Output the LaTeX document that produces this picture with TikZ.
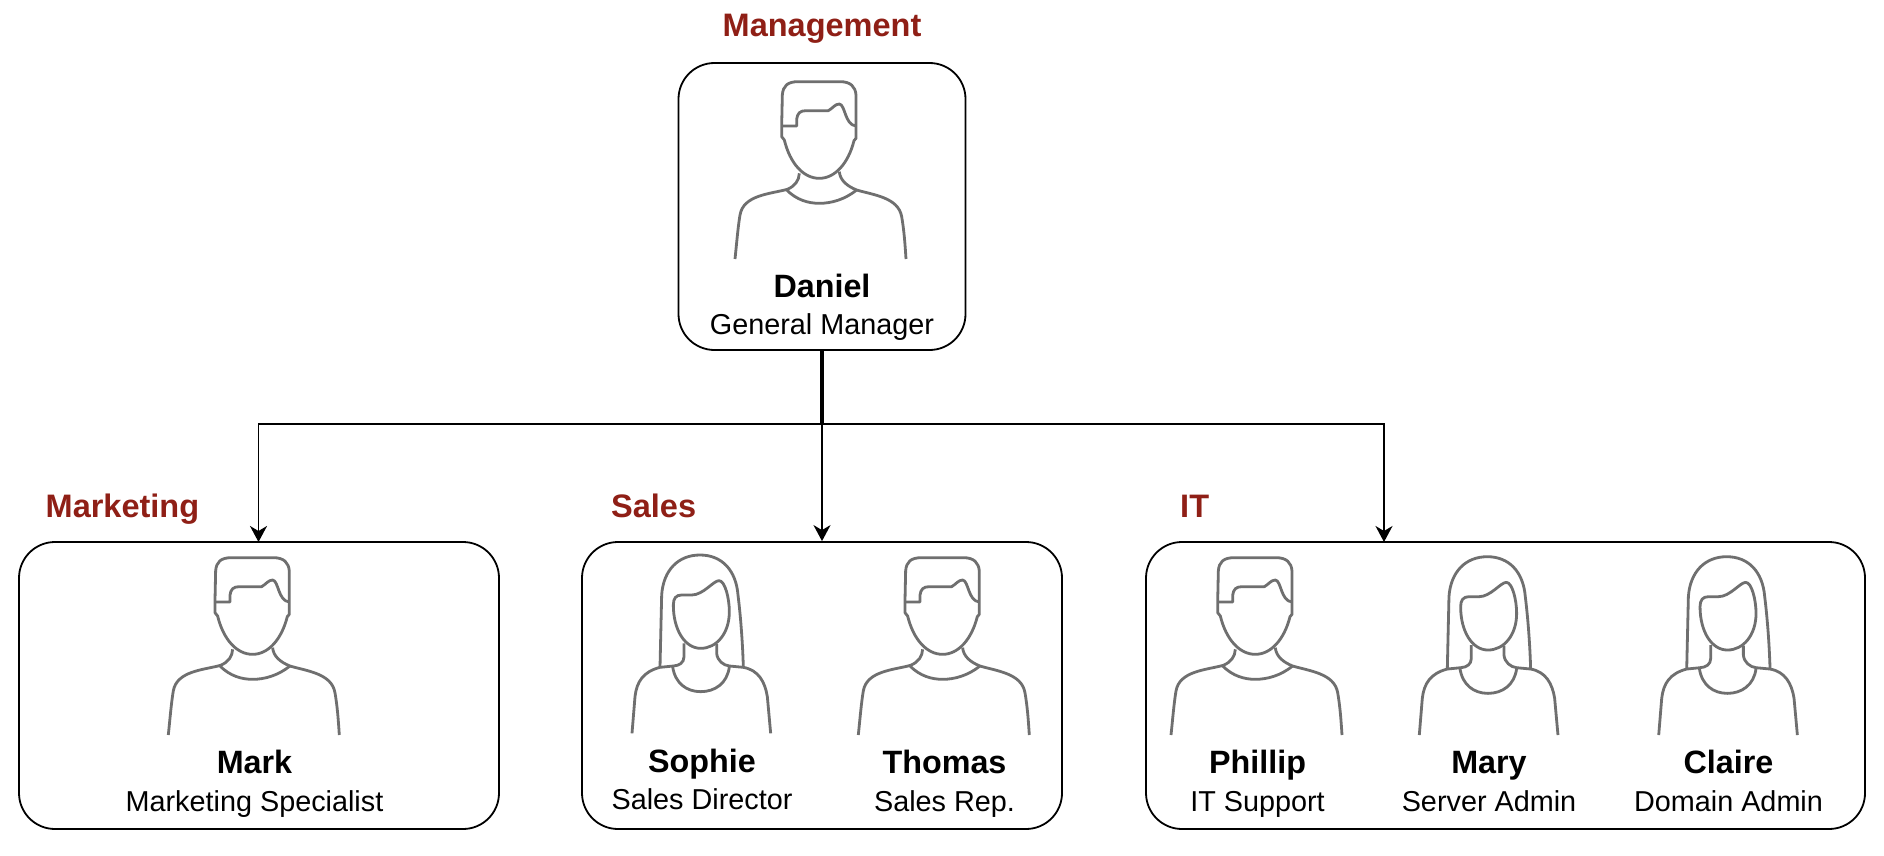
\documentclass[tikz,border=0pt]{standalone}
\usepackage{fontspec}
\setmainfont{Liberation Sans}
\usetikzlibrary{arrows.meta}
\definecolor{title}{HTML}{8F1F16}
\definecolor{figline}{HTML}{6F6F6F}
\tikzset{
  box/.style={draw=black,line width=1.8pt,rounded corners=36pt,fill=white,inner sep=0pt},
  nametext/.style={anchor=base,inner sep=0pt,font=\fontsize{32.3}{38}\selectfont\bfseries},
  roletext/.style={anchor=base,inner sep=0pt,font=\fontsize{28.8}{34}\selectfont},
  grouptext/.style={anchor=base west,inner sep=0pt,text=title,font=\fontsize{32.5}{38}\selectfont\bfseries},
  link/.style={draw=black,line width=1.8pt,-{Stealth[length=16pt,width=17pt,inset=5pt]}},
  figure line/.style={draw=figline,line width=2.8pt,line join=round,fill=none}
}
\newcommand{\manfig}[2]{%
\begin{scope}[shift={(#1,#2)},x=0.33333pt,y=-0.33333pt,figure line]
 \draw (245,198) -- (247,105) .. controls (249,78) and (262,65) .. (295,65) -- (420,65) .. controls (452,65) and (466,80) .. (468,105) -- (468,235) -- (462,242) .. controls (445,310) and (405,355) .. (358,355) .. controls (310,355) and (270,310) .. (253,240) -- (245,230) -- cycle;
 \draw (245,198) -- (290,198) -- (290,178) .. controls (292,160) and (300,152) .. (318,152) -- (385,152) .. controls (398,145) and (405,132) .. (418,132) .. controls (436,134) and (434,195) .. (468,198);
 \draw (298,340) .. controls (297,362) and (285,378) .. (262,388) .. controls (210,402) and (130,405) .. (120,465) .. controls (114,500) and (110,550) .. (105,597);
 \draw (418,335) .. controls (420,360) and (440,378) .. (470,390) .. controls (520,405) and (595,412) .. (605,470) .. controls (612,510) and (615,550) .. (618,597);
 \draw (260,390) .. controls (290,420) and (325,430) .. (358,430) .. controls (395,430) and (435,418) .. (470,390);
\end{scope}}
\newcommand{\womanfig}[2]{%
\begin{scope}[shift={(#1,#2)},x=0.33333pt,y=-0.33333pt,figure line]
 \draw (150,382) -- (155,165) .. controls (160,90) and (205,45) .. (270,45) .. controls (335,45) and (378,90) .. (384,165) .. controls (392,230) and (398,310) .. (400,382);
 \draw (190,195) .. controls (190,175) and (198,165) .. (215,165) -- (245,165) .. controls (280,165) and (310,122) .. (327,122) .. controls (345,122) and (358,175) .. (358,215) .. controls (358,280) and (320,325) .. (272,325) .. controls (225,325) and (190,270) .. (190,195) -- cycle;
 \draw (222,310) -- (222,350) .. controls (222,368) and (208,377) .. (190,378) -- (150,382) .. controls (100,395) and (80,425) .. (75,470) -- (66,580);
 \draw (320,312) -- (320,340) .. controls (322,362) and (340,376) .. (358,378) -- (400,382) .. controls (445,390) and (465,425) .. (472,470) -- (482,580);
 \draw (188,380) .. controls (195,430) and (230,455) .. (272,455) .. controls (315,455) and (352,430) .. (358,380);
\end{scope}}
\begin{document}
\begin{tikzpicture}[x=1pt,y=-1pt]
\useasboundingbox (0,0) rectangle (1884,856);
\fill[white] (0,0) rectangle (1884,856);
% boxes
\node[box,minimum width=287pt,minimum height=287pt] (daniel) at (822,206.5) {};
\node[box,minimum width=480pt,minimum height=287pt] (marketing) at (259,685.5) {};
\node[box,minimum width=480pt,minimum height=287pt] (sales) at (822,685.5) {};
\node[box,minimum width=719pt,minimum height=287pt] (it) at (1505.5,685.5) {};
% connectors
\coordinate (busm) at (258.5,423.7);
\coordinate (busi) at (1384,423.7);
\coordinate (mtop) at (258.5,542);
\coordinate (itop) at (1384,542);
\coordinate (dm) at (821.2,350);
\coordinate (di) at (822.8,350);
\draw[link] (dm) |- (busm) -- (mtop);
\draw[link] (daniel.south) -- (sales.north);
\draw[link] (di) |- (busi) -- (itop);
% figures
\manfig{700}{60}
\manfig{133.3}{536}
\manfig{823.3}{536}
\manfig{1136}{536}
\womanfig{610}{540}
\womanfig{1397.3}{541.7}
\womanfig{1636.7}{541.7}
% text
\node[grouptext,anchor=base] (tman) at (822,37) {Management};
\node[grouptext] (tmar) at (45.5,517) {Marketing};
\node[grouptext] (tsal) at (611,517) {Sales};
\node[grouptext] (tit) at (1180,517) {IT};
\node[nametext] (n1) at (822,297) {Daniel};
\node[roletext] (r1) at (822,334) {General Manager};
\node[nametext] (n2) at (254.5,773) {Mark};
\node[roletext] (r2) at (254.5,811) {Marketing Specialist};
\node[nametext] (n3) at (702,772) {Sophie};
\node[roletext] (r3) at (702,809) {Sales Director};
\node[nametext] (n4) at (944.5,773) {Thomas};
\node[roletext] (r4) at (944.5,811) {Sales Rep.};
\node[nametext] (n5) at (1257.5,773) {Phillip};
\node[roletext] (r5) at (1257.5,811) {IT Support};
\node[nametext] (n6) at (1489,773) {Mary};
\node[roletext] (r6) at (1489,811) {Server Admin};
\node[nametext] (n7) at (1728.5,773) {Claire};
\node[roletext] (r7) at (1728.5,811) {Domain Admin};
\end{tikzpicture}
\end{document}
